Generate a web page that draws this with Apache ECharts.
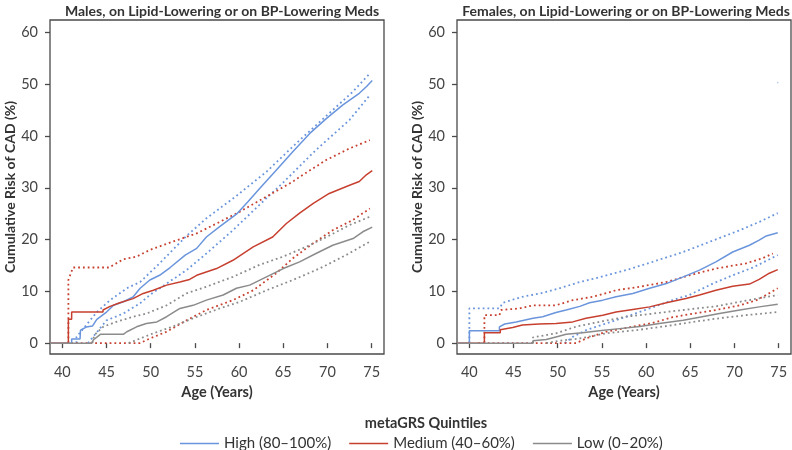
<!DOCTYPE html>
<html>
<head>
<meta charset="utf-8">
<script src="https://cdn.jsdelivr.net/npm/echarts@6/dist/echarts.min.js"></script>
<style>
  html, body { margin: 0; padding: 0; background: #fff; }
  #chart { width: 792px; height: 450px; }
</style>
</head>
<body>
<div id="chart"></div>
<script>
// age ticks / risk ticks
const ageTicks = [40, 45, 50, 55, 60, 65, 70, 75];
const riskTicks = [0, 10, 20, 30, 40, 50, 60];
const groupNames = ['High (80–100%)', 'Medium (40–60%)', 'Low (0–20%)'];
const panelTitles = ['Males, on Lipid-Lowering or on BP-Lowering Meds', 'Females, on Lipid-Lowering or on BP-Lowering Meds'];

// Males: [age, cumulative risk %]
const maleHigh = [[38.6,0],[41.05,0],[41.05,0.8],[42.0,0.8],[42.05,2.5],[42.7,3.1],[43.4,3.3],[43.9,4.6],[45,6.0],[45.8,7.3],[46.9,8.0],[48,8.9],[48.8,10.6],[49.9,12.2],[51,13.1],[52.2,14.6],[53.9,17],[55.2,18.3],[56.3,20.5],[57.8,22.5],[59.7,24.9],[61.0,27.3],[62.3,29.8],[64.2,33.4],[66.1,37],[68,40.5],[69.9,43.4],[71.75,46],[73.6,48.25],[74.4,49.5],[75.07,50.7]];
const maleHighUp = [[41.6,0],[41.6,1.2],[43.9,6.0],[45.4,8.3],[47.3,10.6],[48.8,11.8],[51.0,15.4],[54.05,20.7],[56.3,24.1],[59.6,28.3],[63.1,33.1],[66.85,39.2],[70.6,45.0],[72.9,48.6],[74.8,52.1]];
const maleHighLo = [[42.9,0],[45,4.4],[46.9,5.7],[48.8,7.7],[49.9,9.3],[51.8,11.5],[54.05,14.1],[56.3,17.3],[59.3,21.8],[62.3,26.7],[65.1,31.2],[68.7,37.3],[72.5,43.1],[74.8,47.9]];
const maleMed = [[38.6,0],[40.68,0],[40.68,4.6],[41.05,4.6],[41.05,6.0],[44.6,6.0],[44.6,6.4],[45.4,7.1],[46.5,7.8],[48.0,8.6],[49.15,9.6],[50.3,10.2],[51.8,11.2],[53.3,11.8],[54.4,12.3],[55.2,13.1],[57.45,14.4],[59.3,16.0],[61.6,18.6],[63.8,20.5],[65.35,23.1],[66.85,25.1],[68.4,27.0],[70.2,28.9],[72.5,30.5],[73.6,31.2],[74.4,32.5],[75.07,33.3]];
const maleMedUp = [[40.68,0],[40.68,12.2],[41.2,14.6],[45.3,14.6],[46.9,16.2],[48.4,16.7],[49.9,18.0],[52.5,19.6],[55.2,21.2],[57.45,23.1],[60.1,25.4],[63.1,28.3],[66.1,31.2],[66.85,32.1],[69.9,35.4],[72.5,37.6],[74.8,39.2]];
const maleMedLo = [[41.0,0],[48.8,0],[49.9,0.9],[51.8,2.2],[54.05,4.4],[56.3,6.4],[59.3,8.3],[61.6,10.2],[64.2,13.5],[66.1,16.4],[68.4,19.3],[70.6,21.8],[72.9,23.8],[74.8,26.0]];
const maleLow = [[38.6,0],[43.3,0],[43.5,0.6],[44.3,1.7],[46.9,1.7],[47.3,2.2],[48.4,3.15],[49.5,3.8],[50.7,4.1],[51.8,5.1],[53.3,6.7],[54.8,7.3],[56.3,8.3],[58.2,9.3],[59.7,10.6],[61.2,11.2],[63.1,12.8],[65.0,14.4],[66.85,15.7],[68.7,17.3],[70.6,18.9],[72.9,20.2],[74.0,21.5],[75.07,22.4]];
const maleLowUp = [[43.4,0],[43.6,1.5],[44.6,3.15],[46.1,4.1],[48.0,5.1],[49.5,5.7],[51.8,7.3],[54.05,9.6],[56.3,10.9],[59.3,12.8],[62.3,15.1],[64.97,16.7],[67.6,18.6],[69.9,20.5],[72.5,22.8],[74.8,24.4]];
const maleLowLo = [[47.5,0],[48.8,0.9],[50.3,1.9],[52.5,3.2],[54.8,4.8],[57.8,6.7],[60.1,8.0],[63.1,10.2],[66.1,12.2],[69.1,14.4],[72.1,17.0],[74.8,19.6]];

// Females: [age, cumulative risk %]
const femaleHigh = [[38.6,0],[40,0],[40,2.4],[43.4,2.4],[43.4,3.15],[44.0,3.7],[45.3,4.1],[47.2,4.8],[48.3,5.1],[49.8,5.9],[50.95,6.4],[52.5,7.1],[53.6,7.8],[55.1,8.3],[56.6,8.95],[58.5,9.6],[60.4,10.6],[62.3,11.5],[64.2,12.8],[66.05,14.1],[67.9,15.7],[69.8,17.6],[71.7,18.9],[72.8,19.9],[73.6,20.7],[74.9,21.3]];
const femaleHighUp = [[40,0],[40,6.7],[43.4,6.7],[43.8,7.8],[46.0,8.95],[48.3,9.7],[50.2,10.6],[52.5,11.8],[54.7,12.7],[57.75,14.1],[60.75,15.7],[64.2,17.6],[67.55,19.8],[70.6,21.8],[72.8,23.4],[74.9,25.1]];
const femaleHighLo = [[50.8,0],[51.7,1.2],[53.2,2.5],[55.5,3.8],[57.75,5.1],[60.4,6.7],[63.0,8.3],[64.9,9.3],[67.55,11.5],[69.8,13.1],[72.1,14.6],[74.9,17.0]];
const femaleMed = [[38.6,0],[41.7,0],[41.7,2.0],[43.5,2.0],[43.5,2.6],[44.9,3.0],[46.0,3.5],[47.9,3.7],[49.8,3.8],[51.7,4.1],[53.2,4.8],[55.1,5.4],[56.6,6.0],[58.5,6.5],[60.4,7.0],[62.3,7.8],[64.5,8.6],[66.05,9.3],[67.9,10.2],[69.8,11.0],[71.7,11.4],[72.8,12.3],[73.95,13.5],[74.9,14.2]];
const femaleMedUp = [[41.7,0],[41.7,5.4],[43.4,5.4],[43.6,6.4],[45.7,6.7],[47.2,7.3],[49.8,7.3],[51.7,8.3],[54.0,8.95],[56.6,10.2],[59.3,10.9],[62.3,11.8],[64.9,13.1],[67.9,14.4],[71.3,15.4],[73.2,16.4],[74.35,17.3]];
const femaleMedLo = [[41.0,0],[52.1,0],[53.2,0.9],[55.5,2.2],[58.5,3.2],[60.75,3.9],[63.0,5.0],[65.3,5.7],[67.9,6.4],[70.6,7.3],[72.5,8.3],[73.6,9.3],[74.9,10.6]];
const femaleLow = [[38.6,0],[47.2,0],[47.2,0.45],[48.7,0.7],[49.8,1.2],[50.95,1.7],[52.8,2.0],[54.7,2.4],[57.0,2.8],[59.3,3.2],[61.5,3.8],[64.2,4.4],[66.05,5.0],[68.3,5.7],[70.6,6.4],[72.8,7.0],[74.9,7.5]];
const femaleLowUp = [[47.2,0],[47.2,1.1],[49.8,1.9],[52.1,3.2],[54.7,4.1],[57.75,5.1],[60.75,5.7],[64.2,6.4],[67.9,7.1],[71.3,8.2],[74.9,9.3]];
const femaleLowLo = [[48.7,0],[50.2,0.45],[52.5,0.9],[55.5,1.9],[59.3,2.6],[62.3,3.3],[65.3,4.1],[68.3,4.8],[71.3,5.4],[74.9,6.0]];
const femaleStray = [[74.9, 50.3]];

const colors = ['#6a95dc', '#c7402f', '#8b8b8b'];
const font = 'Lato, "Noto Sans", sans-serif';
const textColor = '#333';

const chart = echarts.init(document.getElementById('chart'), null, { renderer: 'canvas' });

function solid(name, data, idx, color) {
  return {
    name, type: 'line', data, xAxisIndex: idx, yAxisIndex: idx,
    symbol: 'none', showSymbol: false, silent: true,
    lineStyle: { color, width: 1.5 }, itemStyle: { color }, z: 3,
  };
}
function dotted(name, data, idx, color) {
  return {
    name, type: 'line', data, xAxisIndex: idx, yAxisIndex: idx,
    symbol: 'none', showSymbol: false, silent: true,
    lineStyle: { color, width: 1.8, type: [1.8, 3] }, itemStyle: { color }, z: 2,
  };
}

const grids = [
  { left: 50, top: 20, width: 334, height: 334, show: true, borderColor: '#4a4a4a', borderWidth: 1.3, backgroundColor: 'transparent' },
  { left: 457, top: 20, width: 334, height: 334, show: true, borderColor: '#4a4a4a', borderWidth: 1.3, backgroundColor: 'transparent' },
];

const xAxes = [0, 1].map((i) => ({
  type: 'value', gridIndex: i, min: 38.6, max: 76.4,
  name: 'Age (Years)', nameLocation: 'middle', nameGap: 31,
  nameTextStyle: { fontFamily: font, fontSize: 14.5, fontWeight: 'bold', color: textColor },
  axisLine: { show: false },
  axisTick: { show: true, length: 5, customValues: ageTicks, lineStyle: { color: '#4a4a4a', width: 1.3 } },
  axisLabel: { customValues: ageTicks, margin: 11, fontFamily: font, fontSize: 14.5, color: '#444' },
  splitLine: { show: false },
}));

const yAxes = [0, 1].map((i) => ({
  type: 'value', gridIndex: i, min: -2.1, max: 62.4,
  name: 'Cumulative Risk of CAD (%)', nameLocation: 'middle', nameGap: 33, nameRotate: 90,
  nameTextStyle: { fontFamily: font, fontSize: 14, fontWeight: 'bold', color: textColor },
  axisLine: { show: false },
  axisTick: { show: true, length: 5, customValues: riskTicks, lineStyle: { color: '#4a4a4a', width: 1.3 } },
  axisLabel: { customValues: riskTicks, margin: 12, fontFamily: font, fontSize: 14.5, color: '#444' },
  splitLine: { show: false },
}));

const series = [
  solid(groupNames[0], maleHigh, 0, colors[0]),
  dotted('male-high-upper', maleHighUp, 0, colors[0]),
  dotted('male-high-lower', maleHighLo, 0, colors[0]),
  solid(groupNames[1], maleMed, 0, colors[1]),
  dotted('male-med-upper', maleMedUp, 0, colors[1]),
  dotted('male-med-lower', maleMedLo, 0, colors[1]),
  solid(groupNames[2], maleLow, 0, colors[2]),
  dotted('male-low-upper', maleLowUp, 0, colors[2]),
  dotted('male-low-lower', maleLowLo, 0, colors[2]),
  solid(groupNames[0], femaleHigh, 1, colors[0]),
  dotted('female-high-upper', femaleHighUp, 1, colors[0]),
  dotted('female-high-lower', femaleHighLo, 1, colors[0]),
  solid(groupNames[1], femaleMed, 1, colors[1]),
  dotted('female-med-upper', femaleMedUp, 1, colors[1]),
  dotted('female-med-lower', femaleMedLo, 1, colors[1]),
  solid(groupNames[2], femaleLow, 1, colors[2]),
  dotted('female-low-upper', femaleLowUp, 1, colors[2]),
  dotted('female-low-lower', femaleLowLo, 1, colors[2]),
  {
    name: 'female-stray', type: 'scatter', data: femaleStray, xAxisIndex: 1, yAxisIndex: 1,
    symbolSize: 1.6, silent: true, itemStyle: { color: '#9fbbe8' },
  },
];

chart.setOption({
  animation: false,
  backgroundColor: '#fff',
  title: [
    { text: panelTitles[0], left: 217, top: -1, textAlign: 'center',
      textStyle: { fontFamily: font, fontSize: 14, fontWeight: 'bold', color: textColor } },
    { text: panelTitles[1], left: 621, top: -1, textAlign: 'center',
      textStyle: { fontFamily: font, fontSize: 14, fontWeight: 'bold', color: textColor } },
    { text: 'metaGRS Quintiles', left: 421, top: 411, textAlign: 'center',
      textStyle: { fontFamily: font, fontSize: 14.5, fontWeight: 'bold', color: textColor } },
  ],
  legend: {
    data: groupNames,
    left: 175, top: 431,
    icon: 'rect', itemWidth: 39, itemHeight: 1.5, itemGap: 18,
    selectedMode: false,
    textStyle: { fontFamily: font, fontSize: 15, color: textColor },
  },
  grid: grids,
  xAxis: xAxes,
  yAxis: yAxes,
  series,
});
</script>
</body>
</html>
